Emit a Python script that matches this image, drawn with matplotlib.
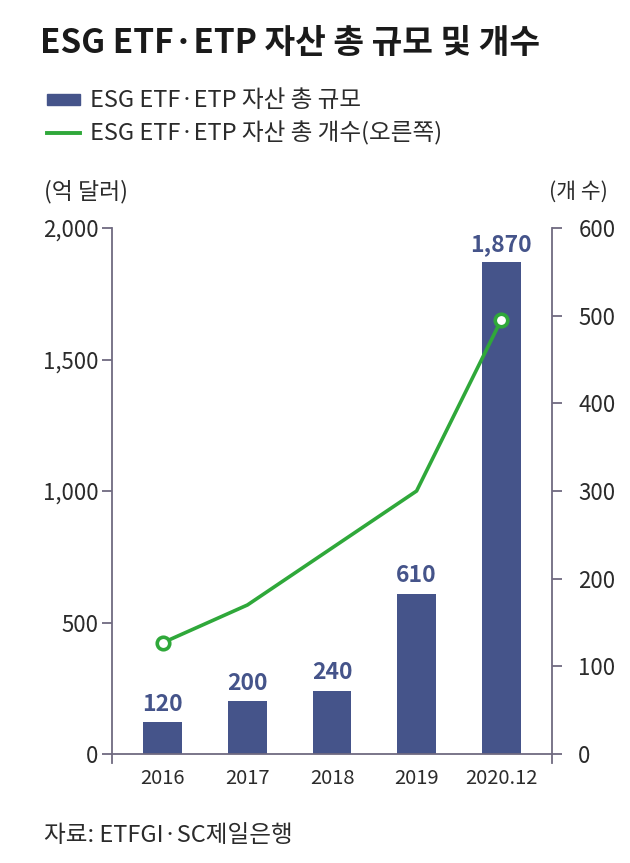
import matplotlib
matplotlib.use('Agg')
import matplotlib.pyplot as plt
import numpy as np

plt.rcParams['font.family'] = ['Noto Sans CJK KR', 'DejaVu Sans']

# data
years = ['2016', '2017', '2018', '2019', '2020.12']
assets = [120, 200, 240, 610, 1870]       # 억 달러
counts = [127, 170, 235, 300, 495]        # 개 (right axis)

left_ticks = [0, 500, 1000, 1500, 2000]
left_labels = ['0', '500', '1,000', '1,500', '2,000']
right_ticks = [0, 100, 200, 300, 400, 500, 600]

bar_color = '#45548a'
line_color = '#2fa83a'
axis_color = '#6f6a80'
text_color = '#2b2b2b'

fig = plt.figure(figsize=(6.3, 8.63), dpi=100)
ax = fig.add_axes([0.178, 0.1263, 0.698, 0.6095])
ax2 = ax.twinx()

x = np.arange(len(years))
bars = ax.bar(x, assets, width=0.46, color=bar_color, zorder=2)
for b, v in zip(bars, assets):
    ax.text(b.get_x() + b.get_width() / 2, v + 25, f'{v:,}',
            ha='center', va='bottom', fontsize=16.5, fontweight='bold',
            color=bar_color)

ax2.plot(x, counts, color=line_color, linewidth=2.6, zorder=3,
         marker='o', markevery=[0, len(x) - 1], markersize=9,
         markerfacecolor='white', markeredgecolor=line_color,
         markeredgewidth=2.6)

ax.set_xlim(-0.6, 4.6)
ax.set_ylim(0, 2000)
ax2.set_ylim(0, 600)
ax.set_xticks(x)
ax.set_xticklabels(years)
ax.set_yticks(left_ticks)
ax.set_yticklabels(left_labels)
ax2.set_yticks(right_ticks)

ax.set_zorder(ax2.get_zorder() - 1)
ax2.patch.set_visible(False)

for a in (ax, ax2):
    a.spines['top'].set_visible(False)
    for s in ('left', 'right', 'bottom'):
        a.spines[s].set_color(axis_color)
        a.spines[s].set_linewidth(1.3)
ax.spines['right'].set_visible(False)
ax2.spines['left'].set_visible(False)
ax2.spines['bottom'].set_visible(False)
ax.spines['left'].set_bounds(-35, 2000)
ax2.spines['right'].set_bounds(-10, 600)

ax.tick_params(axis='x', length=0, pad=10, labelsize=14.5, labelcolor=text_color)
ax.tick_params(axis='y', length=7, width=1.3, color=axis_color, pad=3,
               labelsize=16, labelcolor=text_color)
ax2.tick_params(axis='y', length=7, width=1.3, color=axis_color, pad=12,
                labelsize=16, labelcolor=text_color)

# titles / legend
fig.text(0.063, 0.950, 'ESG ETF·ETP 자산 총 규모 및 개수', fontsize=24,
         fontweight='bold', color='#1a1a1a', ha='left', va='center')

fig.patches.append(plt.Rectangle((0.074, 0.878), 0.053, 0.013,
                                 transform=fig.transFigure, color=bar_color))
fig.text(0.143, 0.884, 'ESG ETF·ETP 자산 총 규모', fontsize=17,
         color=text_color, ha='left', va='center')
fig.lines.append(plt.Line2D([0.074, 0.127], [0.846, 0.846],
                            transform=fig.transFigure, color=line_color,
                            linewidth=2.8))
fig.text(0.143, 0.846, 'ESG ETF·ETP 자산 총 개수(오른쪽)', fontsize=17,
         color=text_color, ha='left', va='center')

fig.text(0.07, 0.778, '(억 달러)', fontsize=16.5, color=text_color,
         ha='left', va='center')
fig.text(0.872, 0.778, '(개 수)', fontsize=15.5, color=text_color,
         ha='left', va='center')

fig.text(0.07, 0.032, '자료: ETFGI·SC제일은행', fontsize=17,
         color=text_color, ha='left', va='center')

plt.savefig('out.png', dpi=100)
